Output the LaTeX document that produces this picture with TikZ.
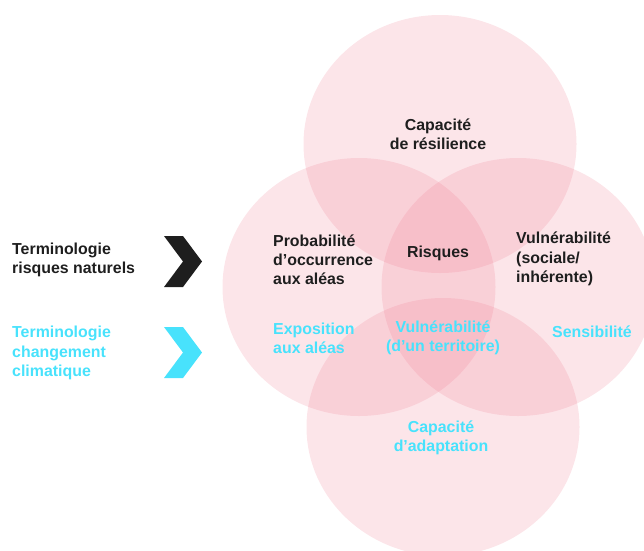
\documentclass[tikz,border=0pt]{standalone}
\usepackage{fontspec}
\setmainfont{Liberation Sans}
\definecolor{rose}{RGB}{238,112,135}
\definecolor{cyanclair}{RGB}{72,226,252}
\definecolor{noir}{RGB}{30,30,30}
\tikzset{
  cercle/.style={fill=rose,fill opacity=.18},
  lbl/.style={font=\bfseries\fontsize{15.9}{19.2}\selectfont,inner sep=0pt},
  rn/.style={lbl,text=noir},
  cc/.style={lbl,text=cyanclair}
}
\begin{document}
\begin{tikzpicture}[x=1pt,y=-1pt]
  \useasboundingbox (0,0) rectangle (644,550);
  \clip (0,0) rectangle (644,550);
  % the four circles
  \foreach \cx/\cy in {440/144,359/287,518/287,443/427}
    \fill[cercle] (\cx,\cy) ellipse [x radius=136.5pt,y radius=129pt];
  % chevrons
  \foreach \y/\c in {261.5/noir,352.5/cyanclair}
    \fill[\c] (164,\y-25.5) -- (183,\y-25.5) -- (202,\y) -- (183,\y+25.5)
      -- (164,\y+25.5) -- (183,\y) -- cycle;
  % terminologies
  \node[rn,anchor=west,align=left] (termrn) at (12,260)
    {Terminologie\\risques naturels};
  \node[cc,anchor=west,align=left] (termcc) at (12,353)
    {Terminologie\\changement\\climatique};
  % labels in the circles
  \node[rn,align=center] (resilience) at (438,134) {Capacité\\de résilience};
  \node[rn,anchor=west,align=left] (probabilite) at (273,260)
    {Probabilité\\d’occurrence\\aux aléas};
  \node[rn] (risques) at (438,253) {Risques};
  \node[rn,anchor=west,align=left] (vulnerabilite) at (516,259)
    {Vulnérabilité\\(sociale/\\inhérente)};
  \node[cc,anchor=west,align=left] (exposition) at (273,338)
    {Exposition\\aux aléas};
  \node[cc,align=center] (territoire) at (443,338)
    {Vulnérabilité\\(d’un territoire)};
  \node[cc] (sensibilite) at (592,332) {Sensibilité};
  \node[cc,align=center] (adaptation) at (441,438) {Capacité\\d’adaptation};
\end{tikzpicture}
\end{document}
